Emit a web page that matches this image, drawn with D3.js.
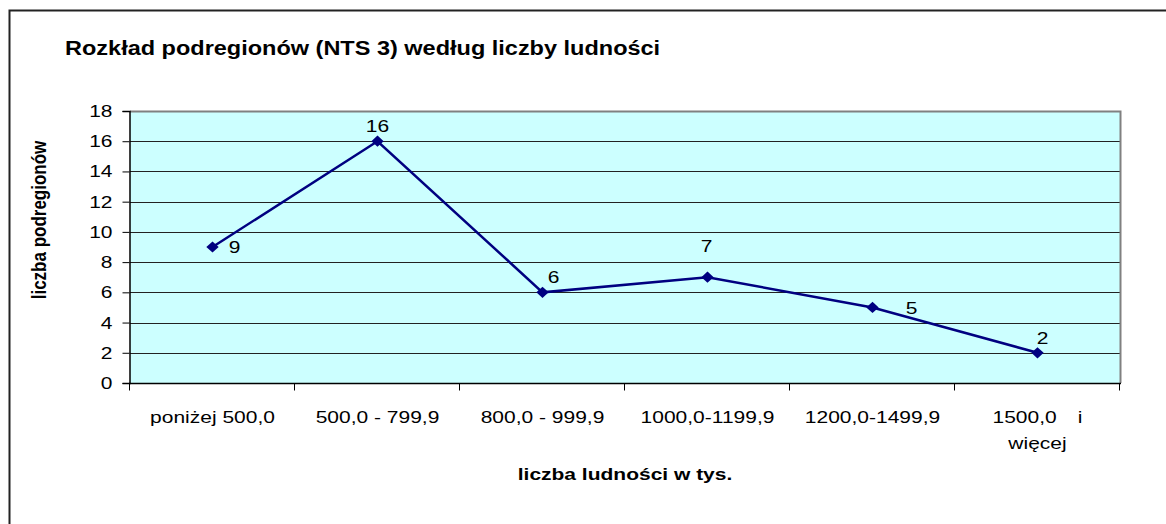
<!DOCTYPE html>
<html>
<head>
<meta charset="utf-8">
<script src="https://cdn.jsdelivr.net/npm/d3@7"></script>
<style>
  body { margin: 0; background: #fff; }
  text { font-family: "Liberation Sans", Arial, sans-serif; }
</style>
</head>
<body>
<div id="chart"></div>
<script>
// data
var categories = ["poniżej 500,0", "500,0 - 799,9", "800,0 - 999,9", "1000,0-1199,9", "1200,0-1499,9", "1500,0 i więcej"];
var values = [9, 16, 6, 7, 5, 2];
var yTicks = [0, 2, 4, 6, 8, 10, 12, 14, 16, 18];

// where each data label sits relative to its point (Excel placement)
var labelOffsets = [[22, 0], [0, -15], [11, -15], [-1, -31], [39, 0], [5, -15]];

var width = 1166, height = 524;
var margin = {left: 130, top: 111, right: 46, bottom: 141};
// the original picture is stretched sideways, so text is too
var sx = 1.235;
var fs = 17;

var svg = d3.select("#chart").append("svg")
    .attr("width", width)
    .attr("height", height);

// outer chart frame (right and bottom fall outside the picture)
svg.append("rect")
    .attr("x", 9.5).attr("y", 10.5)
    .attr("width", 1170).attr("height", 530)
    .attr("fill", "none")
    .attr("stroke", "#222")
    .attr("stroke-width", 2);

var x = d3.scaleBand()
    .domain(categories)
    .range([margin.left, width - margin.right]);

var y = d3.scaleLinear()
    .domain([0, 18])
    .range([height - margin.bottom, margin.top]);

function cx(i) { return x(categories[i]) + x.bandwidth() / 2; }

// plot area
svg.append("rect")
    .attr("x", margin.left)
    .attr("y", margin.top)
    .attr("width", x.range()[1] - margin.left)
    .attr("height", y(0) - margin.top)
    .attr("fill", "#ccffff");

// grid lines
svg.append("g")
    .selectAll("line")
    .data(yTicks.filter(function (d) { return d > 0 && d < 18; }))
    .enter().append("line")
    .attr("x1", margin.left).attr("x2", x.range()[1])
    .attr("y1", function (d) { return Math.round(y(d)) + 0.5; })
    .attr("y2", function (d) { return Math.round(y(d)) + 0.5; })
    .attr("stroke", "#222")
    .attr("stroke-width", 1);

// top and right border of plot area (grey)
svg.append("path")
    .attr("d", "M" + margin.left + "," + (margin.top + 0.5) +
        "H" + (x.range()[1] + 0.5) + "V" + y(0))
    .attr("fill", "none")
    .attr("stroke", "#808080")
    .attr("stroke-width", 2);

// y axis
var yAxis = svg.append("g")
    .attr("transform", "translate(" + (margin.left - 0.5) + ",0)")
    .call(d3.axisLeft(y).tickValues(yTicks).tickSize(7).tickPadding(4));
yAxis.select(".domain").attr("stroke", "#000").attr("stroke-width", 1.5);
yAxis.selectAll(".tick line").attr("stroke", "#000");
yAxis.selectAll(".tick text")
    .attr("x", 0)
    .attr("transform", "translate(-17,0) scale(" + sx + ",1)")
    .attr("font-size", fs)
    .attr("fill", "#000")
    .style("font-family", "Liberation Sans, Arial, sans-serif");

// x axis, ticks between categories
var xAxis = svg.append("g")
    .attr("transform", "translate(0," + (y(0) + 0.5) + ")");
xAxis.append("line")
    .attr("x1", margin.left - 1).attr("x2", x.range()[1] + 1)
    .attr("stroke", "#000").attr("stroke-width", 1.5);
xAxis.selectAll(".tk")
    .data(categories.concat([null]))
    .enter().append("line")
    .attr("x1", function (d, i) { return Math.round(margin.left + i * x.bandwidth()) - 0.5; })
    .attr("x2", function (d, i) { return Math.round(margin.left + i * x.bandwidth()) - 0.5; })
    .attr("y1", 0).attr("y2", 7)
    .attr("stroke", "#000");

var xLabels = xAxis.selectAll(".cat")
    .data(categories)
    .enter().append("text")
    .attr("font-size", fs)
    .attr("fill", "#000")
    .attr("text-anchor", "middle")
    .attr("transform", function (d) {
        return "translate(" + (x(d) + x.bandwidth() / 2) + ",39) scale(" + sx + ",1)";
    });

xLabels.each(function (d) {
    var t = d3.select(this);
    if (d.length > 14) {
        // wrapped, justified label like Excel
        var words = d.split(" ");
        t.append("tspan").attr("x", -45 / sx).attr("text-anchor", "start").text(words[0]);
        t.append("tspan").attr("x", 45 / sx).attr("text-anchor", "end").text(words[1]);
        t.append("tspan").attr("x", 0).attr("dy", 27).text(words[2]);
    } else {
        t.text(d);
    }
});

// series line
var line = d3.line()
    .x(function (d, i) { return cx(i); })
    .y(function (d) { return y(d); });

svg.append("path")
    .datum(values)
    .attr("d", line)
    .attr("fill", "none")
    .attr("stroke", "#000080")
    .attr("stroke-width", 2.5);

svg.selectAll(".pt")
    .data(values)
    .enter().append("path")
    .attr("class", "pt")
    .attr("d", d3.symbol().type(d3.symbolDiamond2).size(80))
    .attr("transform", function (d, i) {
        return "translate(" + cx(i) + "," + y(d) + ") scale(1.1,1)";
    })
    .attr("fill", "#000080");

svg.selectAll(".lbl")
    .data(values)
    .enter().append("text")
    .attr("transform", function (d, i) {
        return "translate(" + (cx(i) + labelOffsets[i][0]) + "," + (y(d) + labelOffsets[i][1]) +
            ") scale(" + sx + ",1)";
    })
    .attr("dy", "0.36em")
    .attr("text-anchor", "middle")
    .attr("font-size", fs)
    .attr("fill", "#000")
    .text(function (d) { return d; });

// title
svg.append("text")
    .attr("transform", "translate(65,55) scale(1.175,1)")
    .attr("font-size", 20)
    .attr("font-weight", "bold")
    .attr("fill", "#000")
    .text("Rozkład podregionów (NTS 3) według liczby ludności");

// axis titles
svg.append("text")
    .attr("transform", "translate(625,480) scale(" + sx + ",1)")
    .attr("text-anchor", "middle")
    .attr("font-size", fs)
    .attr("font-weight", "bold")
    .attr("fill", "#000")
    .text("liczba ludności w tys.");

svg.append("text")
    .attr("transform", "translate(46,220) rotate(-90) scale(1," + sx + ")")
    .attr("text-anchor", "middle")
    .attr("font-size", fs)
    .attr("font-weight", "bold")
    .attr("fill", "#000")
    .text("liczba podregionów");
</script>
</body>
</html>
